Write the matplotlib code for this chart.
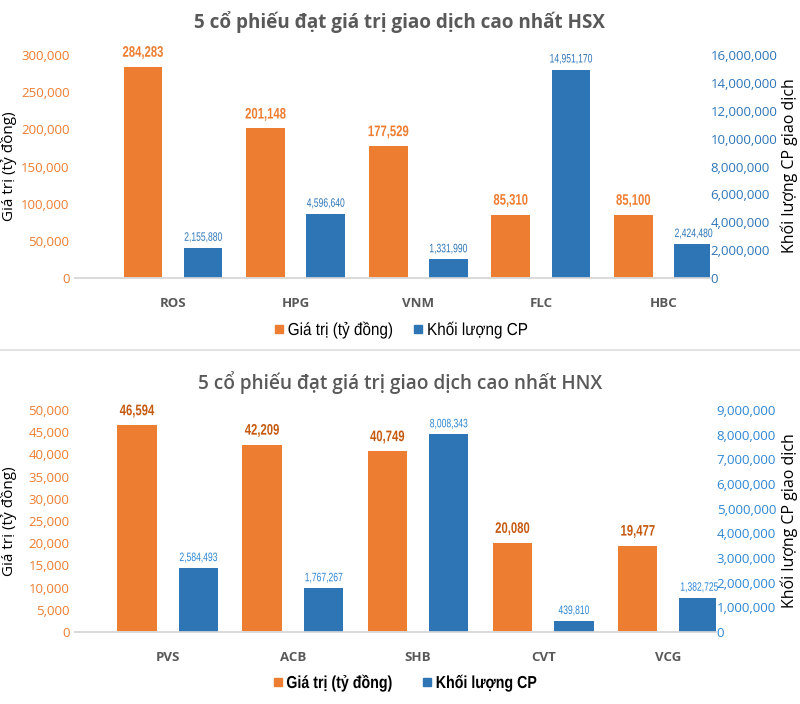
import numpy as np
import matplotlib
matplotlib.use("Agg")
import matplotlib.pyplot as plt
import matplotlib.patheffects as pe
from matplotlib.lines import Line2D
from matplotlib.transforms import Affine2D
from matplotlib.ticker import FuncFormatter

# data
hsx_codes = ["ROS", "HPG", "VNM", "FLC", "HBC"]
hsx_value = [284283, 201148, 177529, 85310, 85100]
hsx_volume = [2155880, 4596640, 1331990, 14951170, 2424480]

hnx_codes = ["PVS", "ACB", "SHB", "CVT", "VCG"]
hnx_value = [46594, 42209, 40749, 20080, 19477]
hnx_volume = [2584493, 1767267, 8008343, 439810, 1382725]

ORANGE = "#ED7D31"
BLUE = "#2E75B6"
GRAY = "#595959"
MAIN = ["Open Sans", "DejaVu Sans"]
NARROW = ["Liberation Sans", "DejaVu Sans"]


class Narrow(pe.AbstractPathEffect):
    """Squeeze glyphs horizontally (stand-in for Arial Narrow)."""

    def __init__(self, sx, anchor="center"):
        super().__init__()
        self.sx = sx
        self.anchor = anchor

    def draw_path(self, renderer, gc, tpath, affine, rgbFace=None):
        ext = tpath.get_extents(affine)
        cx = ext.x0 if self.anchor == "left" else (ext.x0 + ext.x1) / 2
        aff = affine + Affine2D().translate(-cx, 0).scale(self.sx, 1).translate(cx, 0)
        renderer.draw_path(gc, tpath, aff, rgbFace)


W, H = 800, 704
fig = plt.figure(figsize=(W / 100, H / 100), dpi=100)
fmt = FuncFormatter(lambda v, p: f"{int(v):,}")


def box(x0, y0, x1, y1):
    return [x0 / W, 1 - y1 / H, (x1 - x0) / W, (y1 - y0) / H]


def panel(rect, codes, value, volume, ymax, ystep, y2max, y2step, xlim,
          title, title_y, title_weight, title_size, label_y, legend_x, legend_y,
          val_color, vol_color, legend_bold):
    ax = fig.add_axes(rect)
    ax2 = ax.twinx()
    x = np.arange(len(codes))
    b1 = ax.bar(x - 0.245, value, 0.315, color=ORANGE, zorder=2)
    b2 = ax2.bar(x + 0.245, volume, 0.315, color=BLUE, zorder=2)
    ax.set_xlim(*xlim)
    ax.set_ylim(0, ymax)
    ax2.set_ylim(0, y2max)
    ax.set_yticks(np.arange(0, ymax + 1, ystep))
    ax2.set_yticks(np.arange(0, y2max + 1, y2step))
    ax.yaxis.set_major_formatter(fmt)
    ax2.yaxis.set_major_formatter(fmt)
    ax.set_xticks(x, codes)
    for a in (ax, ax2):
        for s in ("top", "left", "right"):
            a.spines[s].set_visible(False)
        a.spines["bottom"].set_color("#D9D9D9")
        a.spines["bottom"].set_linewidth(1.2)
        a.tick_params(length=0)
    ax.tick_params(axis="y", labelcolor=ORANGE, labelsize=9.5, pad=4)
    ax2.tick_params(axis="y", labelcolor=vol_color, labelsize=9.5, pad=0.5)
    ax.tick_params(axis="x", labelcolor=GRAY, labelsize=9.5, pad=14)
    for lab in ax.get_xticklabels():
        lab.set_fontweight("bold")
        lab.set_family(MAIN)
    for lab in ax.get_yticklabels() + ax2.get_yticklabels():
        lab.set_family(MAIN)
    ax.bar_label(b1, labels=[f"{v:,}" for v in value], padding=5, color=val_color,
                 fontsize=11, fontweight="bold", family=NARROW,
                 path_effects=[Narrow(0.74)])
    ax2.bar_label(b2, labels=[f"{v:,}" for v in volume], padding=3, color=vol_color,
                  fontsize=8.8, family=NARROW, path_effects=[Narrow(0.7)])
    fig.text(9 / W, 1 - label_y / H, "Giá trị (tỷ đồng)", rotation=90, ha="center",
             va="center", fontsize=11, family=MAIN)
    fig.text(789 / W, 1 - label_y / H, "Khối lượng CP giao dịch", rotation=90, ha="center",
             va="center", fontsize=11.5, family=MAIN)
    fig.text(0.5, 1 - title_y / H, title, ha="center", va="center", fontsize=title_size,
             fontweight=title_weight, color=GRAY, family=MAIN)
    handles = [Line2D([], [], marker="s", ls="", color=ORANGE, markersize=6),
               Line2D([], [], marker="s", ls="", color=BLUE, markersize=6)]
    leg = fig.legend(handles, ["Giá trị (tỷ đồng)", "Khối lượng CP"], loc="center",
                     bbox_to_anchor=(legend_x / W, 1 - legend_y / H), ncol=2, frameon=False,
                     handletextpad=0.0, columnspacing=0.1, handlelength=1.0,
                     prop={"family": NARROW, "size": 12.5,
                           "weight": "bold" if legend_bold else "normal"})
    sx = 0.82 if legend_bold else 0.88
    for t in leg.get_texts():
        t.set_path_effects([Narrow(sx, "left")])
    return ax, ax2


panel(box(75, 55, 710, 278), hsx_codes, hsx_value, hsx_volume,
      300000, 50000, 16000000, 2000000, (-0.8, 4.38),
      "5 cổ phiếu đạt giá trị giao dịch cao nhất HSX", 22, "bold", 13.6, 166, 406, 330,
      ORANGE, BLUE, False)

panel(box(75, 410, 716, 632), hnx_codes, hnx_value, hnx_volume,
      50000, 5000, 9000000, 1000000, (-0.74, 4.38),
      "5 cổ phiếu đạt giá trị giao dịch cao nhất HNX", 383, "semibold", 13.7, 521, 414, 683,
      "#C55A11", "#2E86D1", True)

fig.add_artist(Line2D([0, 1], [1 - 350 / H, 1 - 350 / H], color="#E3E3E3", lw=1.5))

fig.savefig("out.png", dpi=100, facecolor="white")
